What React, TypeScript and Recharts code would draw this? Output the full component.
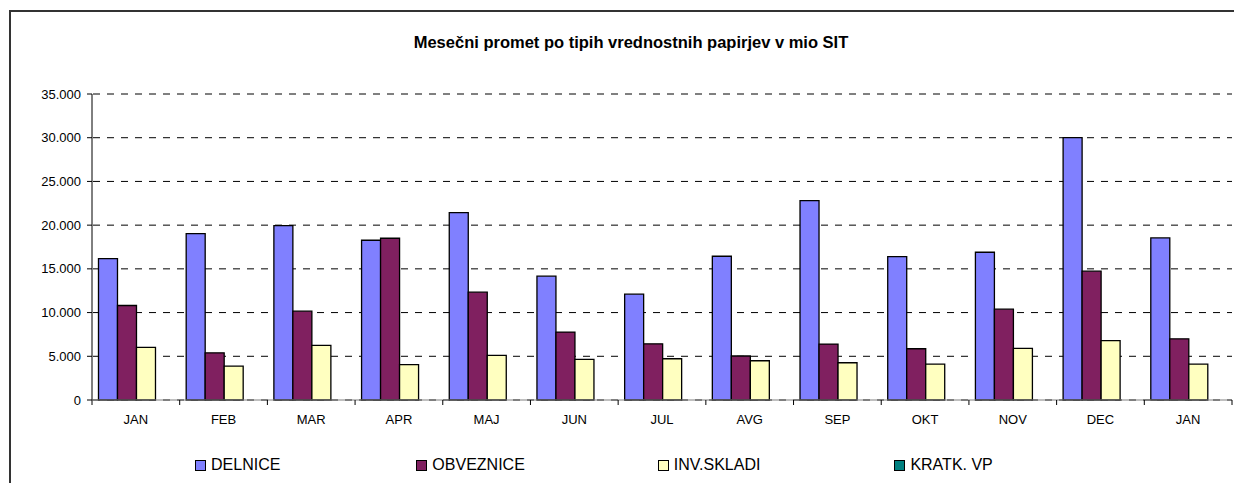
import React from "react";
import { BarChart, Bar, XAxis, YAxis, CartesianGrid, Legend } from "recharts";

const months = ["JAN", "FEB", "MAR", "APR", "MAJ", "JUN", "JUL", "AVG", "SEP", "OKT", "NOV", "DEC", "JAN"];
const delnice = [16180, 19030, 19950, 18270, 21430, 14160, 12100, 16440, 22800, 16410, 16900, 30000, 18540];
const obveznice = [10810, 5400, 10160, 18500, 12330, 7770, 6430, 5030, 6400, 5860, 10390, 14730, 7000];
const invSkladi = [6010, 3880, 6250, 4040, 5100, 4650, 4720, 4490, 4260, 4110, 5900, 6780, 4110];
const kratkVp = [0, 0, 0, 0, 0, 0, 0, 0, 0, 0, 0, 0, 0];
const yTicks = [0, 5000, 10000, 15000, 20000, 25000, 30000, 35000];

const seriesNames = ["DELNICE", "OBVEZNICE", "INV.SKLADI", "KRATK. VP"];
const seriesColors = ["#8080FF", "#802060", "#FFFFC0", "#008080"];
const title = "Mesečni promet po tipih vrednostnih papirjev v mio SIT";

const data = months.map((m, i) => ({
  name: m,
  s0: delnice[i],
  s1: obveznice[i],
  s2: invSkladi[i],
  s3: kratkVp[i],
}));

const FONT = '"Liberation Sans", Arial, sans-serif';
const W = 1234;
const H = 483;
const PLOT_LEFT = 92;
const PLOT_RIGHT = 1232;
const PLOT_TOP = 94;
const PLOT_BOTTOM = 400;

const fmt = (v: number) => {
  if (v === 0) return "0";
  const s = String(Math.round(v));
  return s.replace(/\B(?=(\d{3})+(?!\d))/g, ".");
};

const XTick = (props: any) => {
  const { x, y, payload, index } = props;
  const bw = (PLOT_RIGHT - PLOT_LEFT) / months.length;
  const axisY = PLOT_BOTTOM;
  return (
    <g>
      <line x1={x - bw / 2} x2={x - bw / 2} y1={axisY} y2={axisY + 5} stroke="#000" strokeWidth={1} />
      {index === months.length - 1 && (
        <line x1={x + bw / 2} x2={x + bw / 2} y1={axisY} y2={axisY + 5} stroke="#000" strokeWidth={1} />
      )}
      <text x={x} y={y} dy="0.71em" textAnchor="middle" fontSize={13} fontFamily={FONT} fill="#000">
        {payload.value}
      </text>
    </g>
  );
};

const legendGaps = [0, 136, 133, 134];

const LegendContent = () => (
  <div
    style={{
      display: "flex",
      alignItems: "center",
      paddingLeft: 195,
      fontFamily: FONT,
      fontSize: 16,
      height: 20,
      color: "#000",
    }}
  >
    {seriesNames.map((n, i) => (
      <div key={n} style={{ display: "flex", alignItems: "center", marginLeft: legendGaps[i] }}>
        <span
          style={{
            display: "inline-block",
            width: 9,
            height: 9,
            border: "1px solid #000",
            background: seriesColors[i],
            marginRight: 5,
          }}
        />
        <span>{n}</span>
      </div>
    ))}
  </div>
);

export default function App() {
  return (
    <div
      style={{
        position: "fixed",
        left: 0,
        top: 0,
        width: W,
        height: H,
        overflow: "hidden",
        background: "#fff",
      }}
    >
      <div
        style={{
          position: "absolute",
          left: 9,
          top: 10,
          width: 1300,
          height: 600,
          border: "2px solid #333",
          boxSizing: "border-box",
        }}
      />
      <div
        style={{
          position: "absolute",
          left: 0,
          width: 1262,
          top: 33,
          textAlign: "center",
          fontFamily: FONT,
          fontWeight: "bold",
          fontSize: 16.5,
          lineHeight: "19px",
          color: "#000",
        }}
      >
        {title}
      </div>
      <div style={{ position: "absolute", left: 0, top: 0 }}>
        <BarChart
          width={W}
          height={H}
          data={data}
          margin={{ top: PLOT_TOP, right: W - PLOT_RIGHT, left: 0, bottom: 33 }}
          barCategoryGap="7.4%"
          barGap={0}
        >
          <CartesianGrid
            horizontal={true}
            vertical={false}
            stroke="#000"
            strokeDasharray="7 7"
            strokeDashoffset={-15}
          />
          <XAxis
            dataKey="name"
            stroke="#808080"
            tickLine={false}
            tickSize={5}
            tickMargin={10}
            height={30}
            interval={0}
            tick={<XTick />}
          />
          <YAxis
            width={PLOT_LEFT}
            domain={[0, 35000]}
            ticks={yTicks}
            tickFormatter={fmt}
            stroke="#000"
            tickSize={5}
            tickMargin={6}
            tick={{ fontSize: 13, fontFamily: FONT, fill: "#000" }}
            interval={0}
          />
          <Legend
            verticalAlign="bottom"
            content={<LegendContent />}
            wrapperStyle={{ left: 0, top: 455, width: W, height: 20 }}
          />
          <Bar dataKey="s0" name={seriesNames[0]} fill={seriesColors[0]} stroke="#000" strokeWidth={1.3} isAnimationActive={false} />
          <Bar dataKey="s1" name={seriesNames[1]} fill={seriesColors[1]} stroke="#000" strokeWidth={1.3} isAnimationActive={false} />
          <Bar dataKey="s2" name={seriesNames[2]} fill={seriesColors[2]} stroke="#000" strokeWidth={1.3} isAnimationActive={false} />
          <Bar dataKey="s3" name={seriesNames[3]} fill={seriesColors[3]} stroke="#000" strokeWidth={1.3} isAnimationActive={false} />
        </BarChart>
      </div>
    </div>
  );
}
